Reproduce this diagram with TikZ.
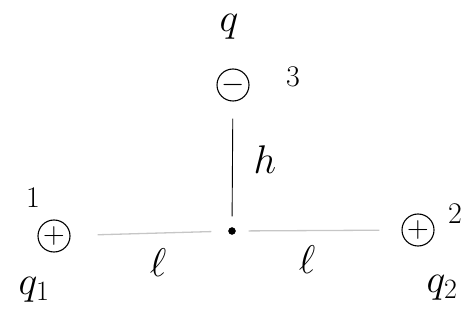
\RequirePackage{fix-cm}
\documentclass[tikz,border=0pt]{standalone}
\usepackage{amsmath,amssymb}
\usepackage{tikz}
\usetikzlibrary{positioning}

\begin{document}
\begin{tikzpicture}[
  x=1pt, y=-1pt,
  charge/.style={draw, circle, minimum size=32pt, inner sep=0pt,
                 line width=1.1pt, font=\fontsize{30}{32}\selectfont},
  lbl/.style={inner sep=0pt, font=\fontsize{40}{42}\selectfont},
  num/.style={inner sep=0pt, font=\fontsize{30}{32}\selectfont},
  rod/.style={line width=0.9pt},
  arm/.style={line width=1.3pt, gray!45}
]
\useasboundingbox (0,0) rectangle (468,320);
\node[charge] (q3) at (233,85) {$-$};
\node[charge] (q1) at (54,236) {$+$};
\node[charge] (q2) at (418,230) {$+$};
\node[draw, circle, fill, inner sep=0pt, minimum size=7pt] (o) at (232,231) {};
\draw[rod, shorten <=17pt, shorten >=11pt] (q3) -- (o);
\draw[arm, shorten <=27pt, shorten >=17pt] (q1) -- (o);
\draw[arm, shorten <=22pt, shorten >=13pt] (q2) -- (o);
\node[lbl] (tq) at (229,27) {$q$};
\node[num] (n3) at (293,77) {$3$};
\node[lbl] (th) at (265,160) {$h$};
\node[num] (n1) at (33,198) {$1$};
\node[num] (n2) at (455,214) {$2$};
\node[lbl] (l1) at (158,263) {$\ell$};
\node[lbl] (l2) at (307,260) {$\ell$};
\node[lbl] (tq1) at (34,290) {$q_1$};
\node[lbl] (tq2) at (442,288) {$q_2$};
\end{tikzpicture}
\end{document}
